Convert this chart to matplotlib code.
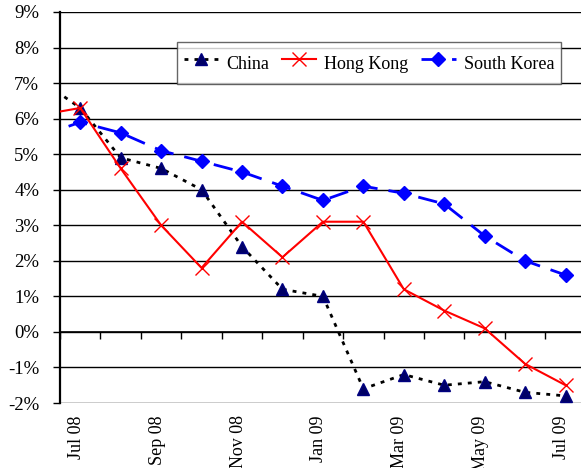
import matplotlib
matplotlib.use("Agg")
import matplotlib.pyplot as plt
import matplotlib.transforms as mtransforms
from matplotlib.lines import Line2D

# Data (Jun 08 point only visible as the clipped segment at the left edge)
months = ["Jun 08", "Jul 08", "Aug 08", "Sep 08", "Oct 08", "Nov 08", "Dec 08",
          "Jan 09", "Feb 09", "Mar 09", "Apr 09", "May 09", "Jun 09", "Jul 09"]
china = [7.1, 6.3, 4.9, 4.6, 4.0, 2.4, 1.2, 1.0, -1.6, -1.2, -1.5, -1.4, -1.7, -1.8]
hong_kong = [6.1, 6.3, 4.6, 3.0, 1.8, 3.1, 2.1, 3.1, 3.1, 1.2, 0.6, 0.1, -0.9, -1.5]
south_korea = [5.5, 5.9, 5.6, 5.1, 4.8, 4.5, 4.1, 3.7, 4.1, 3.9, 3.6, 2.7, 2.0, 1.6]
y_ticks = list(range(-2, 10))
shown_labels = ["Jul 08", "Sep 08", "Nov 08", "Jan 09", "Mar 09", "May 09", "Jul 09"]

plt.rcParams['font.family'] = ['Liberation Serif', 'DejaVu Serif']

fig = plt.figure(figsize=(5.81, 4.68), dpi=100)
W, H = 581, 468
x0, x1 = 60, 585.8
ytop, ybot = 12, 403
ax = fig.add_axes([x0 / W, (H - ybot) / H, (x1 - x0) / W, (ybot - ytop) / H])

x = [i - 1 for i in range(len(months))]  # Jul 08 -> 0

ax.plot(x, china, color='black', lw=2, linestyle=(0, (1.4, 2.2)),
        marker='^', markersize=9, markerfacecolor='#000066', markeredgecolor='#000080',
        zorder=3)
ax.plot(x, hong_kong, color='#FF0000', lw=1.5, linestyle='-',
        marker='x', markersize=10, markeredgewidth=1.0, markeredgecolor='#FF0000', zorder=4)
ax.plot(x, south_korea, color='#0000FF', lw=2, linestyle=(0, (7, 4)),
        marker='D', markersize=7, markerfacecolor='#0000FF', markeredgecolor='#0000FF',
        zorder=5)

ax.set_xlim(-0.5, 12.5)
ax.set_ylim(-2, 9)

# grid
for v in y_ticks:
    ax.axhline(v, color='black', lw=1, zorder=1)

for s in ['top', 'right']:
    ax.spines[s].set_visible(False)
ax.spines['left'].set_linewidth(1.6)
ax.spines['bottom'].set_position(('data', 0))
ax.spines['bottom'].set_linewidth(1.2)

ax.set_yticks(y_ticks)
ax.set_yticklabels([f"{v}%" for v in y_ticks], fontsize=13.5)
ax.tick_params(axis='y', direction='out', length=5, width=1, pad=10)

ax.set_xticks([i + 0.5 for i in range(-1, 13)])
ax.set_xticklabels([])
ax.tick_params(axis='x', direction='out', length=5, width=1)

sec = ax.secondary_xaxis(0)
sec.set_xticks(list(range(0, 13, 2)))
sec.set_xticklabels(shown_labels, rotation=90, fontsize=13, va='top', ha='center')
sec.tick_params(axis='x', length=0, pad=9)
sec.spines['bottom'].set_visible(False)
offset = mtransforms.ScaledTranslation(-4 / 100, 0, fig.dpi_scale_trans)
for lab in sec.get_xticklabels():
    lab.set_transform(lab.get_transform() + offset)

handles = [
    Line2D([], [], color='black', lw=2, linestyle=(0, (1.4, 2.2)), marker='^', markersize=9,
           markerfacecolor='#000066', markeredgecolor='#000080'),
    Line2D([], [], color='#FF0000', lw=1.5, marker='x', markersize=10, markeredgewidth=1.0),
    Line2D([], [], color='#0000FF', lw=2, linestyle=(0, (7, 4)), marker='D', markersize=7,
           markerfacecolor='#0000FF', markeredgecolor='#0000FF'),
]
leg = ax.legend(handles, ["China", "Hong Kong", "South Korea"], ncol=3,
                loc='center', bbox_to_anchor=(0.588, 0.869), fontsize=13,
                frameon=True, fancybox=False, shadow=False, handlelength=1.9,
                handleheight=2.0, columnspacing=0.7, handletextpad=0.45,
                borderpad=0.4, borderaxespad=0)
leg.get_frame().set_edgecolor('#404040')
leg.get_frame().set_linewidth(1.0)
leg.set_zorder(10)

fig.savefig("out.png", dpi=100)
